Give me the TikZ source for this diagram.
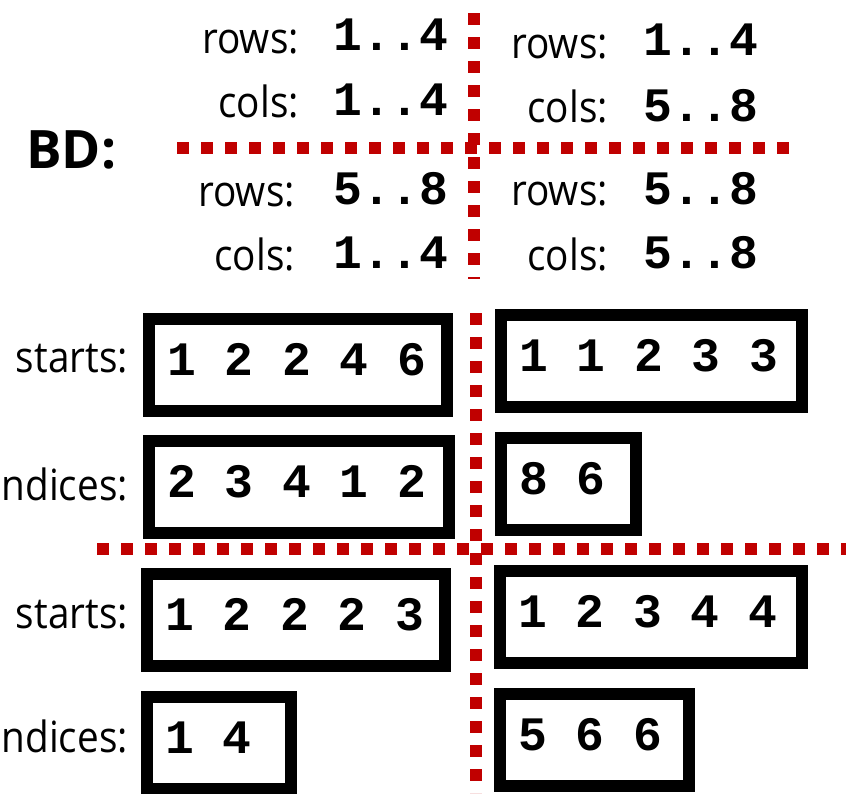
\documentclass[tikz,border=0pt]{standalone}
\usepackage{fontspec}
\setmainfont{Open Sans}[FakeStretch=0.9]
\newfontfamily\headfont{Open Sans}
\setmonofont{Liberation Mono}
\usepackage{xcolor}
\usetikzlibrary{positioning}
\definecolor{sepred}{RGB}{192,0,0}

\begin{document}
\begin{tikzpicture}[x=1pt,y=-1pt,
    lbl/.style={anchor=base east,inner sep=0pt,font=\fontsize{43}{50}\selectfont},
    rng/.style={anchor=base west,inner sep=0pt,font=\fontsize{48}{56}\selectfont\ttfamily\bfseries},
    arr/.style={draw,line width=12pt,anchor=north west,minimum height=92pt,
      text height=30pt,text depth=10pt,inner xsep=18pt,inner ysep=0pt,align=flush left,
      font=\fontsize{48}{56}\selectfont\ttfamily\bfseries},
    sep/.style={draw=sepred,line width=12pt,dash pattern=on 12pt off 12pt}]
  \useasboundingbox (0,0) rectangle (846,793);
  \clip (0,0) rectangle (846,793);

  % block ranges
  \node[anchor=base west,inner sep=0pt,font=\headfont\bfseries\fontsize{53}{60}\selectfont] (bd) at (26,168) {BD:};
  \node[lbl] (rows11) at (299,53) {rows:};
  \node[rng] (rrng11) at (333,50) {1..4};
  \node[lbl] (cols11) at (299,117) {cols:};
  \node[rng] (crng11) at (333,115) {1..4};
  \node[lbl] (rows12) at (608,58) {rows:};
  \node[rng] (rrng12) at (643,55) {1..4};
  \node[lbl] (cols12) at (608,122) {cols:};
  \node[rng] (crng12) at (643,121) {5..8};
  \node[lbl] (rows21) at (295,206) {rows:};
  \node[rng] (rrng21) at (333,204) {5..8};
  \node[lbl] (cols21) at (295,270) {cols:};
  \node[rng] (crng21) at (333,268) {1..4};
  \node[lbl] (rows22) at (608,205) {rows:};
  \node[rng] (rrng22) at (643,204) {5..8};
  \node[lbl] (cols22) at (608,270) {cols:};
  \node[rng] (crng22) at (643,268) {5..8};

  \coordinate (vtop1) at (474,13);
  \coordinate (vtop2) at (474,279);
  \coordinate (htop1) at (177,148);
  \coordinate (htop2) at (789,148);
  \draw[sep] (vtop1) -- (vtop2);
  \draw[sep] (htop1) -- (htop2);

  % CSR arrays
  \node[lbl] (rsl1) at (128,372) {starts:};
  \node[lbl] (cil1) at (128,500) {ndices:};
  \node[lbl] (rsl2) at (128,628) {starts:};
  \node[lbl] (cil2) at (128,752) {ndices:};

  \node[arr,text width=262pt] (rs11) at (143,313) {1 2 2 4 6};
  \node[arr,text width=264pt] (ci11) at (143,435) {2 3 4 1 2};
  \node[arr,text width=265pt] (rs12) at (495,309) {1 1 2 3 3};
  \node[arr,text width=99pt]  (ci12) at (495,432) {8 6};
  \node[arr,text width=262pt] (rs21) at (141,568) {1 2 2 2 3};
  \node[arr,text width=108pt] (ci21) at (141,691) {1 4};
  \node[arr,text width=266pt] (rs22) at (494,565) {1 2 3 4 4};
  \node[arr,text width=153pt] (ci22) at (494,688) {5 6 6};

  \coordinate (vmid1) at (476,313);
  \coordinate (vmid2) at (476,793);
  \coordinate (hmid1) at (97,549);
  \coordinate (hmid2) at (846,549);
  \draw[sep] (vmid1) -- (vmid2);
  \draw[sep] (hmid1) -- (hmid2);
\end{tikzpicture}
\end{document}
